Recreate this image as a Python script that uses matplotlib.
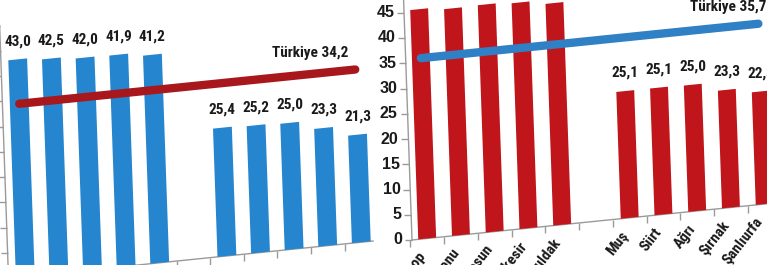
import numpy as np
import matplotlib
matplotlib.use("Agg")
import matplotlib.pyplot as plt
from matplotlib.transforms import Affine2D
from matplotlib import font_manager as fm

# ---------------- data ----------------
left_top_values = [43.0, 42.5, 42.0, 41.9, 41.2]
left_bottom_values = [25.4, 25.2, 25.0, 23.3, 21.3]
left_turkiye = 34.2

right_top_names = ["Sinop", "Kastamonu", "Giresun", "Balıkesir", "Zonguldak"]
right_top_values = [45.4, 44.9, 45.0, 44.7, 43.9]
right_bottom_names = ["Muş", "Siirt", "Ağrı", "Şırnak", "Şanlıurfa"]
right_bottom_values = [25.1, 25.1, 25.0, 23.3, 22.3]
right_turkiye = 35.7

y_ticks = [0, 5, 10, 15, 20, 25, 30, 35, 40, 45, 50]

# ---------------- style ----------------
W, H = 767, 265


def has_font(name):
    try:
        fm.findfont(fm.FontProperties(family=name), fallback_to_default=False)
        return True
    except Exception:
        return False


if has_font("Liberation Sans Narrow"):
    NARROW, NSIZE = ["Liberation Sans Narrow", "DejaVu Sans"], 11
elif has_font("Roboto Condensed"):
    NARROW, NSIZE = ["Roboto Condensed", "DejaVu Sans"], 11
else:
    NARROW, NSIZE = ["Liberation Sans", "DejaVu Sans"], 9.5
REG = ["Liberation Sans", "DejaVu Sans"]
AXIS_COLOR = "#9a9a9a"
K_SHEAR = 0.102   # vertical rise per px to the right
C_SHEAR = 0.035   # horizontal shift per px downward

fig = plt.figure(figsize=(W / 100, H / 100), dpi=100)
fig.patch.set_facecolor("white")


def fmt(v):
    return f"{v:.1f}".replace(".", ",")


def make_axes(x0, y0, w, h, xlim):
    ax = fig.add_axes([x0 / W, y0 / H, w / W, h / H])
    ax.set_xlim(*xlim)
    ax.set_ylim(0, 50)
    ax.set_axis_off()
    px, py = ax.transAxes.transform((0, 0))
    M = np.array([[1.0, -C_SHEAR, 0.0], [K_SHEAR, 1.0, 0.0], [0.0, 0.0, 1.0]])
    tf = (ax.transData + Affine2D().translate(-px, -py) + Affine2D(M)
          + Affine2D().translate(px, py))
    return ax, tf


def draw_panel(ax, tf, xlim, vals_a, vals_b, bar_color, bar_width,
               tr_value, tr_color, tr_dx, names=None):
    n_a = len(vals_a)
    pos = list(range(n_a)) + list(range(n_a + 1, n_a + 1 + len(vals_b)))
    vals = list(vals_a) + list(vals_b)

    # axis lines
    ax.plot([xlim[0], xlim[1]], [0, 0], color=AXIS_COLOR, lw=1.0,
            transform=tf, clip_on=False, zorder=1)
    ax.plot([xlim[0], xlim[0]], [0, 50], color=AXIS_COLOR, lw=1.0,
            transform=tf, clip_on=False, zorder=1)
    # x ticks at category boundaries
    bounds = [b - 0.5 for b in range(0, pos[-1] + 2)]
    bounds = [b for b in bounds if xlim[0] - 0.1 <= b <= xlim[1] + 0.01]
    ax.plot(bounds, [0] * len(bounds), ls="none", marker=3, markersize=5,
            mew=1.0, color=AXIS_COLOR, transform=tf, clip_on=False)
    # y ticks
    ax.plot([xlim[0]] * len(y_ticks), y_ticks, ls="none", marker=0,
            markersize=5, mew=1.0, color=AXIS_COLOR, transform=tf, clip_on=False)
    for t in y_ticks:
        ax.annotate(str(t), xy=(xlim[0], t), xycoords=tf, xytext=(-7, 0),
                    textcoords="offset points", ha="right", va="center",
                    fontsize=11.5, fontweight="bold", family=REG, color="#1a1a1a",
                    annotation_clip=False)

    # bars
    ax.bar(pos, vals, width=bar_width, color=bar_color, transform=tf,
           clip_on=False, zorder=2, linewidth=0)

    # value labels
    for p, v in zip(pos, vals):
        ax.annotate(fmt(v), xy=(p, v), xycoords=tf, xytext=(0, 13),
                    textcoords="offset points", ha="center", va="center",
                    fontsize=NSIZE, fontweight="bold", family=NARROW,
                    color="#1a1a1a", annotation_clip=False)

    # Türkiye line
    ax.plot([pos[0], pos[-1]], [tr_value, tr_value], color=tr_color, lw=6,
            solid_capstyle="round", transform=tf, clip_on=False, zorder=3)
    ax.annotate(f"Türkiye {fmt(tr_value)}", xy=(pos[-1], tr_value), xycoords=tf,
                xytext=(tr_dx, 12), textcoords="offset points", ha="right",
                va="center", fontsize=NSIZE, fontweight="bold", family=NARROW,
                color="#1a1a1a", annotation_clip=False)

    # category labels
    if names is not None:
        for p, name in zip(pos, names):
            ax.annotate(name, xy=(p, 0), xycoords=tf, xytext=(-3, -11),
                        textcoords="offset points", ha="right", va="center",
                        rotation=52, rotation_mode="anchor", fontsize=NSIZE,
                        fontweight="bold", family=NARROW, color="#1a1a1a",
                        annotation_clip=False)


# left panel
xl = (-0.5, 10.35)
axL, tfL = make_axes(8.5, -13.2, (xl[1] - xl[0]) * 33.6, 252.5, xl)
draw_panel(axL, tfL, xl, left_top_values, left_bottom_values, "#2585cf", 0.56,
           left_turkiye, "#a8171c", -5)

# right panel
xr = (-0.45, 10.5)
axR, tfR = make_axes(412, 25, (xr[1] - xr[0]) * 33.75, 252.5, xr)
draw_panel(axR, tfR, xr, right_top_values, right_bottom_values, "#c0151b", 0.53,
           right_turkiye, "#2f80c4", 6,
           names=right_top_names + right_bottom_names)

fig.savefig("out.png", dpi=100, facecolor="white")
